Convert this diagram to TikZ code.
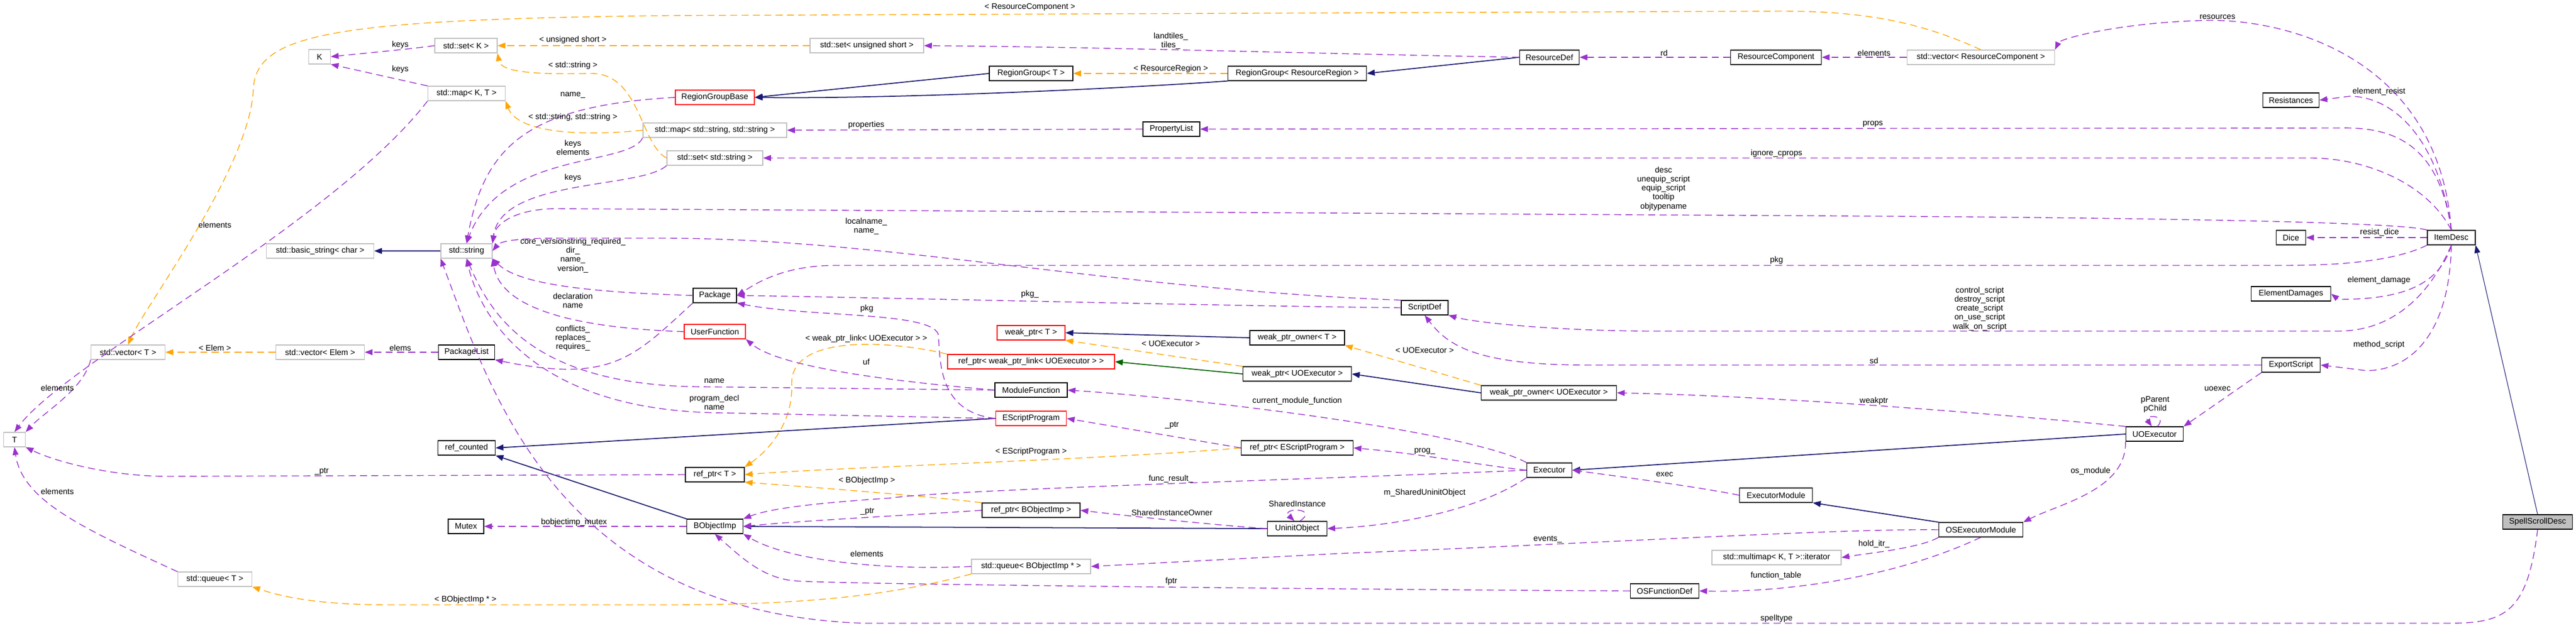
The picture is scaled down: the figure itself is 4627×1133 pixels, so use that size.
\documentclass[tikz,border=0pt]{standalone}
\usepackage{fontspec}
\setmainfont{Liberation Sans}
\usetikzlibrary{arrows.meta,positioning}
\definecolor{usecol}{HTML}{9A32CD}
\definecolor{tplcol}{HTML}{FFA500}
\definecolor{inhcol}{HTML}{191970}
\definecolor{protcol}{HTML}{006400}
\definecolor{tplbox}{HTML}{BFBFBF}

\begin{document}
\begin{tikzpicture}[
    x=0.01cm, y=-0.01cm,
    every node/.style={font=\fontsize{4.15pt}{4.6pt}\selectfont},
    cls/.style={draw=black, line width=0.35pt, fill=white, inner sep=0pt, minimum height=0.26cm},
    tpl/.style={cls, draw=tplbox},
    bad/.style={cls, draw=red},
    main/.style={cls, fill=black!25},
    lbl/.style={inner sep=0pt, align=center},
    use/.style={draw=usecol, line width=0.4pt, dash pattern=on 3.6pt off 2.2pt,
        -{Triangle[length=4pt,width=3pt]}, usecol},
    inst/.style={use, draw=tplcol, tplcol},
    inh/.style={draw=inhcol, line width=0.5pt, -{Triangle[length=4pt,width=3pt]}, inhcol},
    prot/.style={inh, draw=protcol, protcol}
    ]
    \useasboundingbox (0,0) rectangle (4627,1133);

    % classes, left part
    \node[tpl, minimum width=0.39cm] (Kt) at (574,102) {K};
    \node[tpl, minimum width=1.12cm] (SetK) at (837,82) {std::set< K >};
    \node[tpl, minimum width=1.39cm] (MapKT) at (838,168) {std::map< K, T >};
    \node[tpl, minimum width=1.93cm] (BasicStr) at (575,451) {std::basic\_string< char >};
    \node[tpl, minimum width=0.92cm] (Str) at (838,451) {std::string};
    \node[tpl, minimum width=1.33cm] (VecT) at (230,633) {std::vector< T >};
    \node[tpl, minimum width=1.59cm] (VecElem) at (575,633) {std::vector< Elem >};
    \node[cls, minimum width=1.01cm] (PackageList) at (838,633) {PackageList};
    \node[tpl, minimum width=0.39cm] (Tt) at (26,790) {T};
    \node[cls, minimum width=1.03cm] (RefCounted) at (838,805) {ref\_counted};
    \node[cls, minimum width=0.64cm] (Mutex) at (837,946) {Mutex};
    \node[tpl, minimum width=1.33cm] (QueueT) at (386,1041) {std::queue< T >};

    % classes, middle part
    \node[bad, minimum width=1.42cm] (RegionGroupBase) at (1284,175) {RegionGroupBase};
    \node[tpl, minimum width=2.58cm] (MapSS) at (1284,234) {std::map< std::string, std::string >};
    \node[tpl, minimum width=1.72cm] (SetS) at (1284,284) {std::set< std::string >};
    \node[cls, minimum width=0.78cm] (Package) at (1284,531) {Package};
    \node[bad, minimum width=1.10cm] (UserFunction) at (1284,596) {UserFunction};
    \node[cls, minimum width=1.06cm] (RefT) at (1284,853) {ref\_ptr< T >};
    \node[cls, minimum width=1.01cm] (BObjectImp) at (1284,946) {BObjectImp};
    \node[tpl, minimum width=2.04cm] (SetUS) at (1557,82) {std::set< unsigned short >};
    \node[cls, minimum width=1.50cm] (RegionGroupT) at (1852,132) {RegionGroup< T >};
    \node[bad, minimum width=1.22cm] (WeakPtrT) at (1852,598) {weak\_ptr< T >};
    \node[bad, minimum width=3.00cm] (RefWPL) at (1852,650) {ref\_ptr< weak\_ptr\_link< UOExecutor > >};
    \node[cls, minimum width=1.30cm] (ModuleFunction) at (1852,701) {ModuleFunction};
    \node[bad, minimum width=1.27cm] (EScriptProgram) at (1852,752) {EScriptProgram};
    \node[cls, minimum width=1.76cm] (RefBO) at (1852,917) {ref\_ptr< BObjectImp >};
    \node[tpl, minimum width=2.14cm] (QueueBO) at (1852,1018) {std::queue< BObjectImp * >};
    \node[cls, minimum width=1.02cm] (PropertyList) at (2104,232) {PropertyList};
    \node[cls, minimum width=2.49cm] (RegionGroupRR) at (2330,132) {RegionGroup< ResourceRegion >};
    \node[cls, minimum width=1.70cm] (WeakOwnerT) at (2330,607) {weak\_ptr\_owner< T >};
    \node[cls, minimum width=1.95cm] (WeakPtrU) at (2330,672) {weak\_ptr< UOExecutor >};
    \node[cls, minimum width=2.01cm] (RefEP) at (2330,805) {ref\_ptr< EScriptProgram >};
    \node[cls, minimum width=1.07cm] (UninitObject) at (2330,950) {UninitObject};

    % classes, right part
    \node[cls, minimum width=0.84cm] (ScriptDef) at (2559,553) {ScriptDef};
    \node[cls, minimum width=1.07cm] (ResourceDef) at (2783,103) {ResourceDef};
    \node[cls, minimum width=2.43cm] (WeakOwnerU) at (2782,706) {weak\_ptr\_owner< UOExecutor >};
    \node[cls, minimum width=0.81cm] (Executor) at (2783,845) {Executor};
    \node[cls, minimum width=1.23cm] (OSFunctionDef) at (2990,1062) {OSFunctionDef};
    \node[cls, minimum width=1.63cm] (ResourceComponent) at (3190,103) {ResourceComponent};
    \node[cls, minimum width=1.31cm] (ExecutorModule) at (3190,890) {ExecutorModule};
    \node[tpl, minimum width=2.32cm] (MultimapIt) at (3191,1002) {std::multimap< K, T >::iterator};
    \node[tpl, minimum width=2.65cm] (VecRC) at (3558,103) {std::vector< ResourceComponent >};
    \node[cls, minimum width=1.51cm] (OSExecutorModule) at (3558,952) {OSExecutorModule};
    \node[cls, minimum width=1.03cm] (UOExecutor) at (3870,780) {UOExecutor};
    \node[cls, minimum width=1.01cm] (Resistances) at (4115,180) {Resistances};
    \node[cls, minimum width=0.53cm] (Dice) at (4115,427) {Dice};
    \node[cls, minimum width=1.43cm] (ElementDamages) at (4115,528) {ElementDamages};
    \node[cls, minimum width=1.05cm] (ExportScript) at (4115,656) {ExportScript};
    \node[cls, minimum width=0.86cm] (ItemDesc) at (4403,427) {ItemDesc};
    \node[main, minimum width=1.25cm] (SpellScrollDesc) at (4558,938) {SpellScrollDesc};

    % inheritance
    \draw[inh] (Str.west) -- (BasicStr.east);
    \draw[inh] (RegionGroupT.west) -- (RegionGroupBase.east);
    \draw[inh] (RegionGroupRR.south west) .. controls (2000,160) and (1600,178) .. (RegionGroupBase.east);
    \draw[inh] (ResourceDef.west) -- (RegionGroupRR.east);
    \draw[inh] (WeakOwnerT.west) -- (WeakPtrT.east);
    \draw[inh] (WeakOwnerU.west) -- (WeakPtrU.east);
    \draw[prot] (WeakPtrU.west) -- (RefWPL.east);
    \draw[inh] (EScriptProgram.west) -- (RefCounted.east);
    \draw[inh] (BObjectImp.north west) -- (RefCounted.south east);
    \draw[inh] (UninitObject.west) -- (BObjectImp.east);
    \draw[inh] (UOExecutor.west) -- (Executor.east);
    \draw[inh] (OSExecutorModule.north west) -- (ExecutorModule.south east);
    \draw[inh, line width=0.3pt] (SpellScrollDesc.north) -- (ItemDesc.south east);

    % template instances
    \draw[inst] (VecRC.north) .. controls (3450,40) and (3350,20) .. (3200,20) -- (1200,28)
        .. controls (600,35) and (460,60) .. (455,160) .. controls (450,300) and (260,550) .. (VecT.north);
    \draw[inst] (SetUS.west) -- (SetK.east);
    \draw[inst] (SetS.west) .. controls (1150,260) and (1150,130) .. (1060,132)
        .. controls (960,134) and (900,130) .. (SetK.south east);
    \draw[inst] (MapSS.west) .. controls (1050,245) and (930,240) .. (MapKT.south east);
    \draw[inst] (VecElem.west) -- (VecT.east);
    \draw[inst] (QueueBO.south west) .. controls (1600,1070) and (1450,1087) .. (1200,1087) -- (700,1087)
        .. controls (560,1087) and (500,1070) .. (QueueT.south east);
    \draw[inst] (RegionGroupRR.west) -- (RegionGroupT.east);
    \draw[inst] (WeakPtrU.north west) -- (WeakPtrT.south east);
    \draw[inst] (WeakOwnerU.north west) -- (WeakOwnerT.south east);
    \draw[inst] (RefWPL.north west) .. controls (1600,612) and (1420,600) .. (1422,690)
        .. controls (1425,760) and (1380,810) .. (RefT.north east);
    \draw[inst] (RefEP.west) .. controls (2000,825) and (1500,840) .. (RefT.east);
    \draw[inst] (RefBO.north west) .. controls (1650,890) and (1450,875) .. (RefT.south east);

    % members
    \draw[use] (SetK.west) .. controls (740,88) and (650,96) .. (Kt.east);
    \draw[use] (MapKT.north west) -- (Kt.south east);
    \draw[use] (MapKT.south west) .. controls (600,400) and (120,650) .. (Tt.north);
    \draw[use] (VecT.south west) .. controls (150,700) and (80,740) .. (Tt.north east);
    \draw[use] (QueueT.north west) .. controls (150,950) and (40,900) .. (Tt.south);
    \draw[use] (PackageList.west) -- (VecElem.east);
    \draw[use] (Package.south west) .. controls (1140,640) and (1100,690) .. (PackageList.south east);
    \draw[use] (RegionGroupBase.west) .. controls (950,190) and (870,260) .. (Str.north);
    \draw[use] (MapSS.south west) .. controls (1130,300) and (900,270) .. (Str.north);
    \draw[use] (SetS.south west) .. controls (1150,340) and (900,320) .. (Str.north east);
    \draw[use] (ItemDesc.north west) .. controls (4300,395) and (3600,390) .. (3300,388) -- (1000,375)
        .. controls (930,375) and (890,400) .. (Str.north east);
    \draw[use] (ScriptDef.north west) .. controls (2000,520) and (1600,430) .. (1200,428) -- (1000,428)
        .. controls (940,428) and (900,432) .. (Str.east);
    \draw[use] (Package.west) .. controls (1050,525) and (930,510) .. (Str.south east);
    \draw[use] (UserFunction.west) .. controls (1050,590) and (900,560) .. (Str.south east);
    \draw[use] (ModuleFunction.west) -- (1250,695) .. controls (950,690) and (880,560) .. (Str.south);
    \draw[use] (EScriptProgram.west) -- (1300,742) .. controls (950,740) and (860,560) .. (Str.south);
    \draw[use] (SpellScrollDesc.south) .. controls (4540,1100) and (4500,1120) .. (4400,1120) -- (1550,1120)
        .. controls (1000,1100) and (880,700) .. (Str.south west);
    \draw[use] (PropertyList.west) -- (MapSS.east);
    \draw[use] (ItemDesc.north) .. controls (4380,250) and (4290,228) .. (4200,230) -- (PropertyList.east);
    \draw[use] (ItemDesc.north) .. controls (4360,330) and (4250,284) .. (4150,284) -- (SetS.east);
    \draw[use] (ItemDesc.north) .. controls (4380,100) and (4100,30) .. (3950,37)
        .. controls (3800,42) and (3700,70) .. (VecRC.north east);
    \draw[use] (ItemDesc.north) .. controls (4380,250) and (4300,173) .. (4220,173) -- (Resistances.east);
    \draw[use] (ItemDesc.west) -- (Dice.east);
    \draw[use] (ItemDesc.south) .. controls (4380,520) and (4300,538) .. (4200,538) -- (ElementDamages.east);
    \draw[use] (ItemDesc.south west) .. controls (4300,470) and (4200,477) .. (4100,477) -- (1500,477)
        .. controls (1400,477) and (1350,515) .. (Package.east);
    \draw[use] (ScriptDef.west) .. controls (2200,550) and (1600,535) .. (Package.east);
    \draw[use] (EScriptProgram.west) .. controls (1680,740) and (1690,640) .. (1685,600)
        .. controls (1670,560) and (1450,570) .. (Package.south east);
    \draw[use] (ItemDesc.south) .. controls (4360,540) and (4290,595) .. (4200,595) -- (2970,595)
        .. controls (2800,595) and (2650,580) .. (ScriptDef.south east);
    \draw[use] (ExportScript.west) -- (2850,656) .. controls (2650,656) and (2600,620) .. (ScriptDef.south);
    \draw[use] (ItemDesc.south) .. controls (4400,600) and (4330,666) .. (4250,666) -- (ExportScript.east);
    \draw[use] (ExportScript.south west) -- (UOExecutor.north east);
    \draw[use] (UOExecutor.70) .. controls (3895,745) and (3850,745) .. (UOExecutor.110);
    \draw[use] (UOExecutor.north west) .. controls (3600,745) and (3200,712) .. (WeakOwnerU.east);
    \draw[use] (UOExecutor.south west) .. controls (3820,880) and (3700,905) .. (OSExecutorModule.north east);
    \draw[use] (Executor.north west) .. controls (2650,780) and (2200,720) .. (ModuleFunction.east);
    \draw[use] (ModuleFunction.west) .. controls (1600,685) and (1400,660) .. (UserFunction.south east);
    \draw[use] (Executor.west) .. controls (2650,835) and (2550,815) .. (RefEP.east);
    \draw[use] (RefEP.west) -- (EScriptProgram.east);
    \draw[use] (RefT.west) -- (300,856) .. controls (200,856) and (100,830) .. (Tt.south east);
    \draw[use] (Executor.west) .. controls (2400,860) and (1700,880) .. (1600,895)
        .. controls (1450,905) and (1380,915) .. (BObjectImp.north east);
    \draw[use] (Executor.south west) .. controls (2650,920) and (2500,945) .. (UninitObject.east);
    \draw[use] (UninitObject.70) .. controls (2370,912) and (2300,912) .. (UninitObject.110);
    \draw[use] (UninitObject.west) .. controls (2200,945) and (2050,930) .. (RefBO.east);
    \draw[use] (RefBO.west) .. controls (1650,925) and (1450,935) .. (BObjectImp.east);
    \draw[use] (BObjectImp.west) -- (Mutex.east);
    \draw[use] (QueueBO.west) .. controls (1600,1025) and (1420,1010) .. (BObjectImp.south east);
    \draw[use] (OSExecutorModule.west) .. controls (3300,950) and (2900,975) .. (2400,995) -- (QueueBO.east);
    \draw[use] (OSExecutorModule.south west) .. controls (3450,985) and (3350,995) .. (MultimapIt.east);
    \draw[use] (OSExecutorModule.south) .. controls (3400,1040) and (3200,1065) .. (OSFunctionDef.east);
    \draw[use] (OSFunctionDef.west) .. controls (2500,1060) and (1500,1050) .. (1430,1044)
        .. controls (1370,1040) and (1330,1000) .. (BObjectImp.south);
    \draw[use] (ExecutorModule.west) .. controls (3050,875) and (2900,855) .. (Executor.east);
    \draw[use] (ResourceComponent.west) -- (ResourceDef.east);
    \draw[use] (VecRC.west) -- (ResourceComponent.east);
    \draw[use] (ResourceDef.west) .. controls (2300,95) and (2000,85) .. (SetUS.east);

    % labels
    \node[lbl] (lKeysA) at (719,81) {keys};
    \node[lbl] (lKeysB) at (719,125) {keys};
    \node[lbl] (lElemA) at (386,404) {elements};
    \node[lbl] (lElemB) at (103,697) {elements};
    \node[lbl] (lElemC) at (103,883) {elements};
    \node[lbl] (lUShort) at (1029,72) {< unsigned short >};
    \node[lbl] (lStrT) at (1029,118) {< std::string >};
    \node[lbl] (lName) at (1029,171) {name\_};
    \node[lbl] (lStrStr) at (1029,211) {< std::string, std::string >};
    \node[lbl] (lKeysElem) at (1029,265) {keys\\elements};
    \node[lbl] (lKeysC) at (1029,320) {keys};
    \node[lbl] (lCore) at (1029,459) {core\_versionstring\_required\_\\dir\_\\name\_\\version\_};
    \node[lbl] (lDecl) at (1029,540) {declaration\\name};
    \node[lbl] (lConfl) at (1029,608) {conflicts\_\\replaces\_\\requires\_};
    \node[lbl] (lElemT) at (386,625) {< Elem >};
    \node[lbl] (lElems) at (719,625) {elems};
    \node[lbl] (lPtrT) at (578,847) {\_ptr};
    \node[lbl] (lMutex) at (1031,939) {bobjectimp\_mutex};
    \node[lbl] (lBOStar) at (836,1078) {< BObjectImp * >};
    \node[lbl] (lRC) at (1850,13) {< ResourceComponent >};
    \node[lbl] (lTiles) at (2103,74) {landtiles\_\\tiles\_};
    \node[lbl] (lRR) at (2103,124) {< ResourceRegion >};
    \node[lbl] (lProps) at (1556,225) {properties};
    \node[lbl] (lLocal) at (1556,407) {localname\_\\name\_};
    \node[lbl] (lPkgA) at (1850,529) {pkg\_};
    \node[lbl] (lPkgB) at (1557,555) {pkg};
    \node[lbl] (lWPL) at (1556,609) {< weak\_ptr\_link< UOExecutor > >};
    \node[lbl] (lUOA) at (2103,617) {< UOExecutor >};
    \node[lbl] (lUf) at (1556,650) {uf};
    \node[lbl] (lNameB) at (1283,685) {name};
    \node[lbl] (lProg) at (1283,723) {program\_decl\\name};
    \node[lbl] (lCurMod) at (2330,721) {current\_module\_function};
    \node[lbl] (lPtrEP) at (2105,764) {\_ptr};
    \node[lbl] (lEP) at (1852,812) {< EScriptProgram >};
    \node[lbl] (lBO) at (1557,864) {< BObjectImp >};
    \node[lbl] (lFunc) at (2103,861) {func\_result\_};
    \node[lbl] (lPtrBO) at (1558,919) {\_ptr};
    \node[lbl] (lShOwn) at (2105,921) {SharedInstanceOwner};
    \node[lbl] (lShInst) at (2330,905) {SharedInstance};
    \node[lbl] (lElemD) at (1557,995) {elements};
    \node[lbl] (lFptr) at (2104,1045) {fptr};
    \node[lbl] (lRd) at (2989,95) {rd};
    \node[lbl] (lElemE) at (3366,95) {elements};
    \node[lbl] (lPropsB) at (3364,223) {props};
    \node[lbl] (lIgn) at (3191,276) {ignore\_cprops};
    \node[lbl] (lDesc) at (2988,339) {desc\\unequip\_script\\equip\_script\\tooltip\\objtypename};
    \node[lbl] (lPkgC) at (3191,468) {pkg};
    \node[lbl] (lScripts) at (3556,555) {control\_script\\destroy\_script\\create\_script\\on\_use\_script\\walk\_on\_script};
    \node[lbl] (lUOB) at (2559,629) {< UOExecutor >};
    \node[lbl] (lSd) at (3366,648) {sd};
    \node[lbl] (lProgB) at (2559,811) {prog\_};
    \node[lbl] (lWeak) at (3366,721) {weakptr};
    \node[lbl] (lExec) at (2990,853) {exec};
    \node[lbl] (lShared) at (2559,886) {m\_SharedUninitObject};
    \node[lbl] (lEvents) at (2780,969) {events\_};
    \node[lbl] (lHold) at (3366,978) {hold\_itr\_};
    \node[lbl] (lFtab) at (3190,1035) {function\_table};
    \node[lbl] (lSpell) at (3191,1112) {spelltype};
    \node[lbl] (lRes) at (3983,31) {resources};
    \node[lbl] (lResist) at (4273,165) {element\_resist};
    \node[lbl] (lDice) at (4274,418) {resist\_dice};
    \node[lbl] (lDmg) at (4273,504) {element\_damage};
    \node[lbl] (lMeth) at (4273,620) {method\_script};
    \node[lbl] (lUoexec) at (3983,699) {uoexec};
    \node[lbl] (lPar) at (3871,727) {pParent\\pChild};
    \node[lbl] (lOsMod) at (3755,847) {os\_module};
\end{tikzpicture}
\end{document}
